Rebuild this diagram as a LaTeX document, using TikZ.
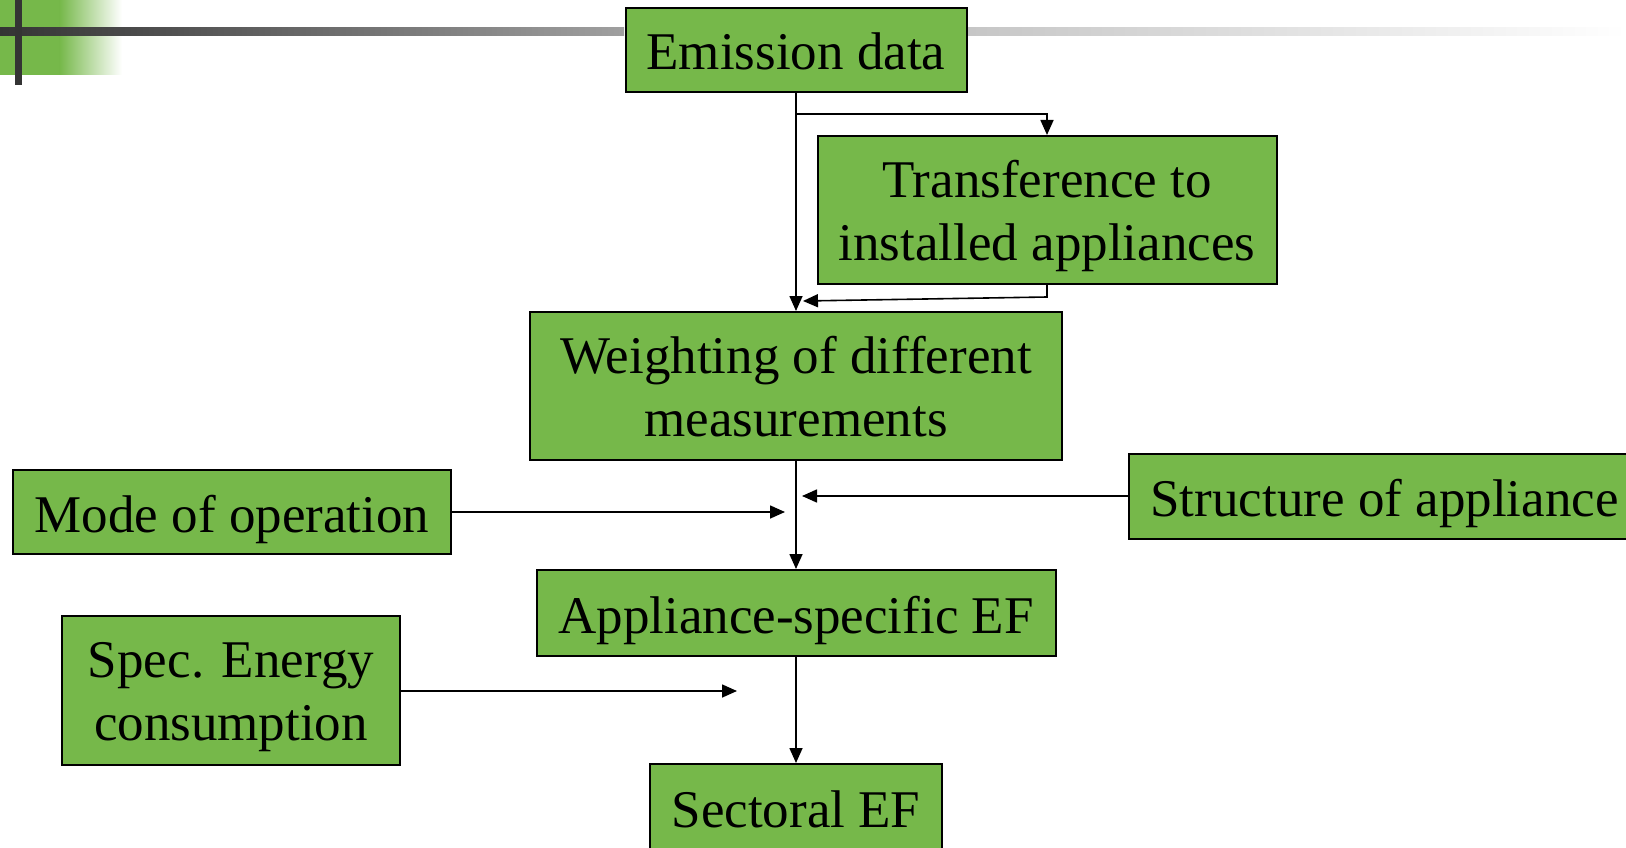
\documentclass[tikz,border=0pt]{standalone}
\usepackage{fontspec}
\setmainfont{Liberation Serif}
\usetikzlibrary{arrows.meta}
\definecolor{boxgreen}{RGB}{118,184,74}
\definecolor{bardark}{RGB}{52,52,52}
\begin{document}
\begin{tikzpicture}[x=1pt,y=-1pt,
  box/.style={draw=black,line width=2pt,fill=boxgreen,inner sep=0pt,
    align=center,font=\fontsize{53}{63}\selectfont,text height=40pt,text depth=0pt},
  twoline/.style={text height=103pt,text depth=3pt},
  arr/.style={line width=1.6pt,-{Triangle[length=15pt,width=13pt]}},
  ln/.style={line width=1.6pt}]
\useasboundingbox (0,0) rectangle (1626,848);
% top-left decoration
\fill[boxgreen] (0,0) rectangle (60,75);
\shade[left color=boxgreen,right color=white] (59.5,0) rectangle (122,75);
\shade[left color=bardark,right color=gray!75] (0,28) rectangle (624,36);
\shade[left color=gray!45,right color=white] (965,28) rectangle (1626,36);
\fill[bardark] (15,0) rectangle (22,85);
% nodes
\node[box,minimum width=341pt,minimum height=84pt] (emis) at (796,50) {Emission data};
\node[box,twoline,minimum width=459pt,minimum height=148pt] (trans) at (1047,210) {Transference to\hspace{7pt}\\installed appliances};
\node[box,twoline,minimum width=532pt,minimum height=148pt] (weight) at (796,386) {Weighting of different\hspace{10pt}\\measurements};
\node[box,minimum width=438pt,minimum height=84pt] (mode) at (232,512) {Mode of operation};
\node[box,minimum width=511pt,minimum height=85pt] (struct) at (1384.5,496) {Structure of appliance};
\node[box,minimum width=519pt,minimum height=86pt] (appl) at (796,613) {Appliance-specific EF};
\node[box,twoline,minimum width=338pt,minimum height=149pt] (spec) at (231,690.5) {Spec. Energy\hspace{13pt}\\consumption};
\node[box,minimum width=292pt,minimum height=86pt] (sect) at (796,807) {Sectoral EF};
% coordinates
\coordinate (b1) at (796,114);
\coordinate (t1) at (1047,297);
\coordinate (t2) at (803,301);
\coordinate (m1) at (785,512);
\coordinate (s1) at (802,496);
\coordinate (e1) at (737,691);
% connectors
\draw[arr] (emis.south) -- (weight.north);
\draw[arr] (b1) -| (trans.north);
\draw[arr] (trans.south) -- (t1) -- (t2);
\draw[arr] (mode.east) -- (m1);
\draw[arr] (struct.west |- s1) -- (s1);
\draw[arr] (weight.south) -- (appl.north);
\draw[arr] (spec.east |- e1) -- (e1);
\draw[arr] (appl.south) -- (sect.north);
\end{tikzpicture}
\end{document}
